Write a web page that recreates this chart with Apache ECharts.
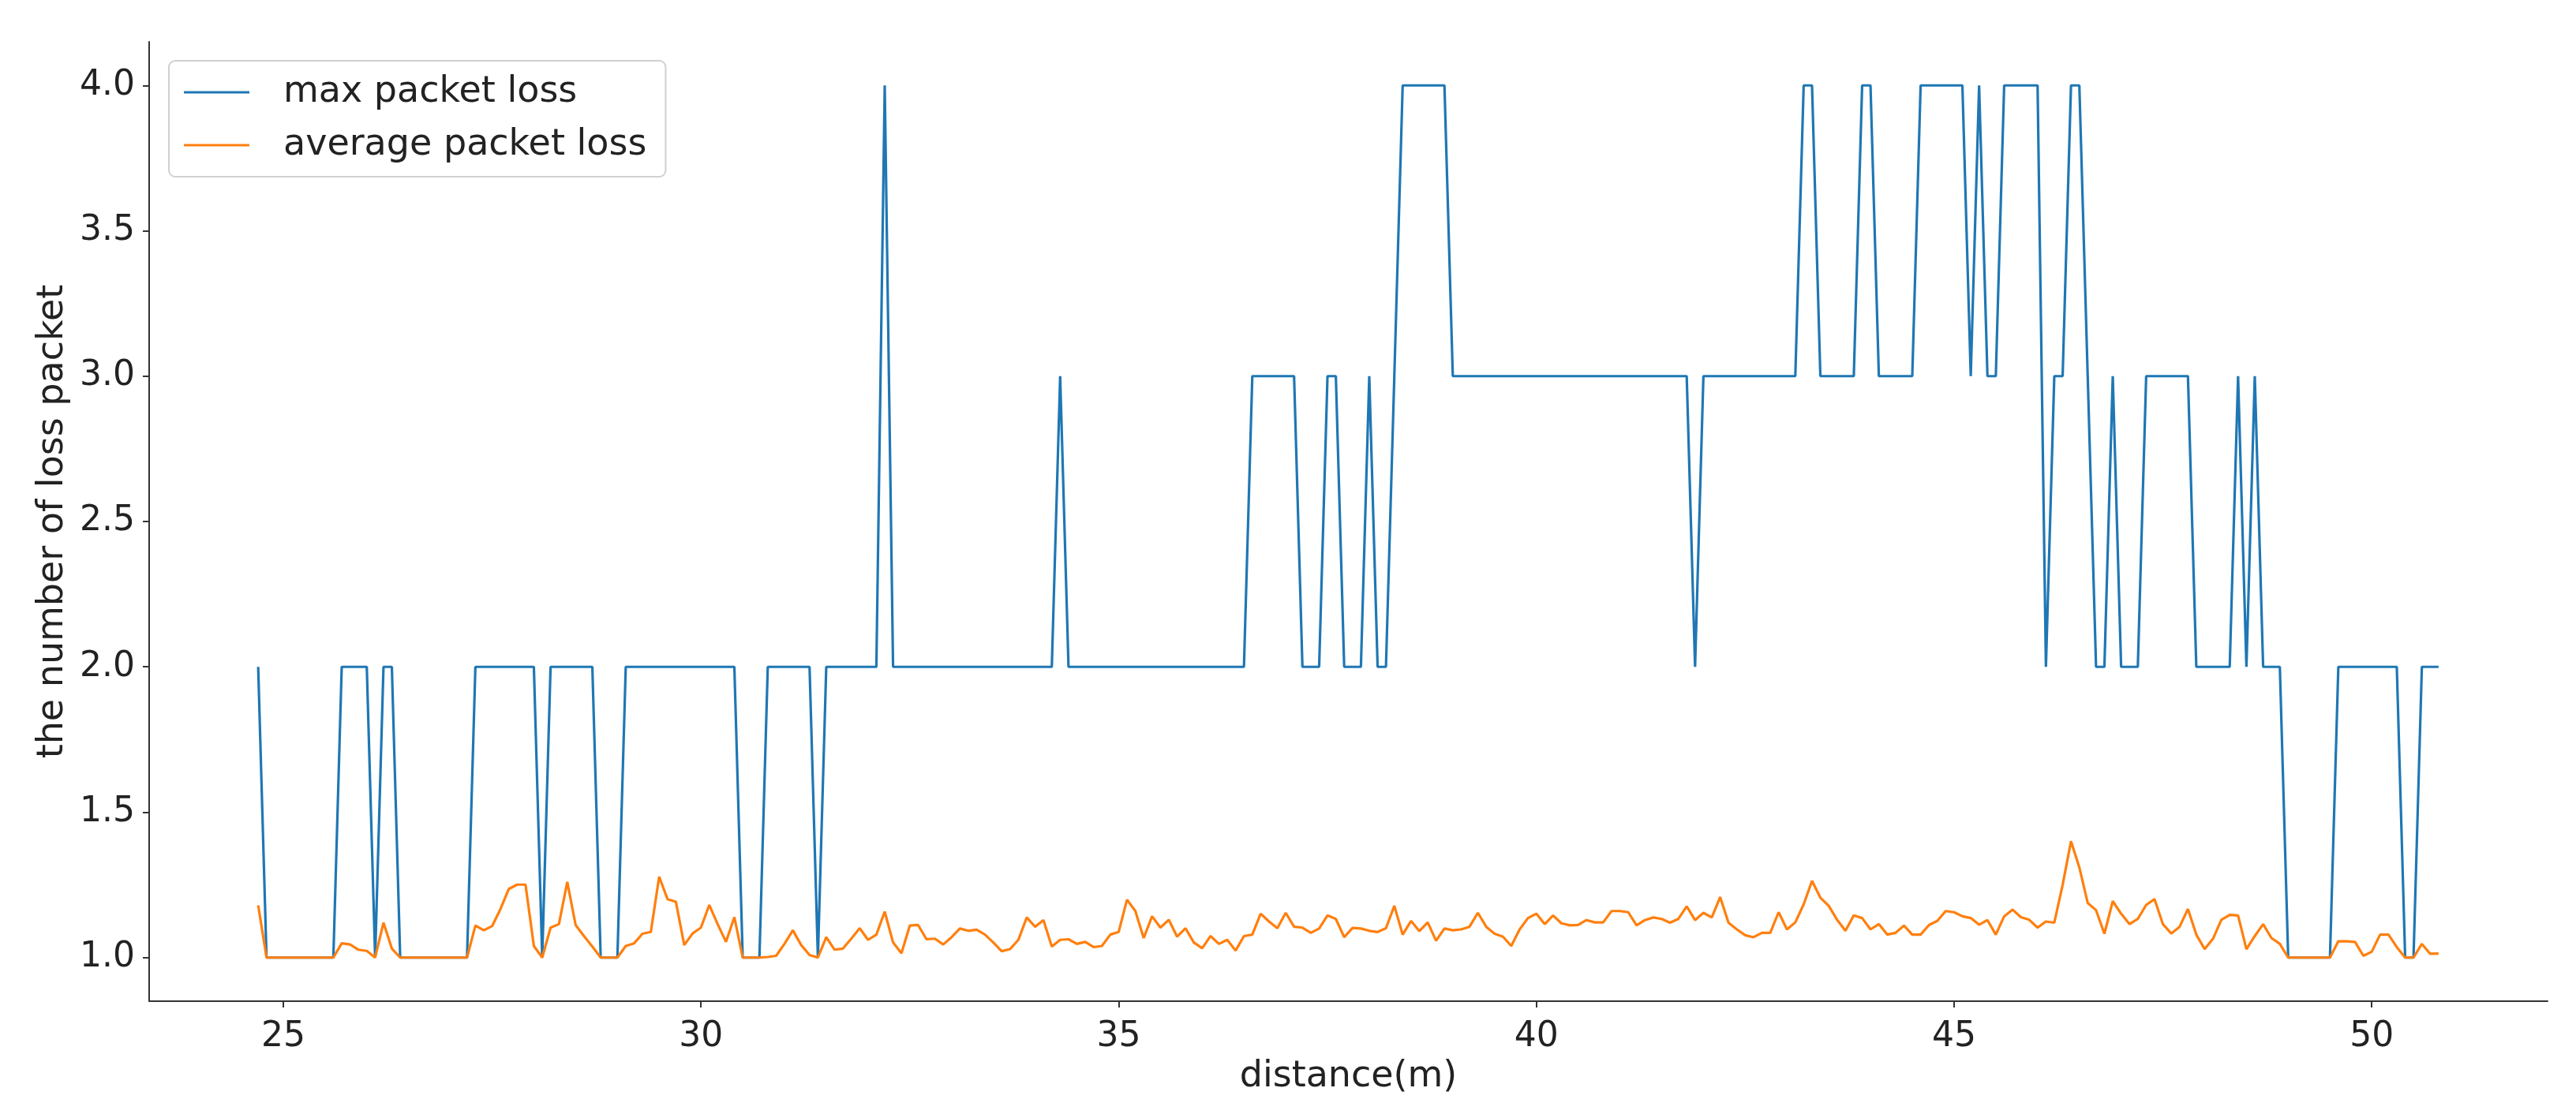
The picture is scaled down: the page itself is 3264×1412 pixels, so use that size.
<!DOCTYPE html>
<html>
<head>
<meta charset="utf-8">
<script src="https://cdn.jsdelivr.net/npm/echarts@6/dist/echarts.min.js"></script>
<style>
html,body{margin:0;padding:0;background:#fff;}
#chart{width:3264px;height:1412px;}
</style>
</head>
<body>
<div id="chart"></div>
<script>
// sampling grid of the distance axis (m)
const distanceStart = 24.7;
const distanceStep = 0.1;

const maxPacketLoss = [
  2,1,1,1,1,1,1,1,1,1,
  2,2,2,2,1,2,2,1,1,1,
  1,1,1,1,1,1,2,2,2,2,
  2,2,2,2,1,2,2,2,2,2,
  2,1,1,1,2,2,2,2,2,2,
  2,2,2,2,2,2,2,2,1,1,
  1,2,2,2,2,2,2,1,2,2,
  2,2,2,2,2,4,2,2,2,2,
  2,2,2,2,2,2,2,2,2,2,
  2,2,2,2,2,2,3,2,2,2,
  2,2,2,2,2,2,2,2,2,2,
  2,2,2,2,2,2,2,2,2,3,
  3,3,3,3,3,2,2,2,3,3,
  2,2,2,3,2,2,3,4,4,4,
  4,4,4,3,3,3,3,3,3,3,
  3,3,3,3,3,3,3,3,3,3,
  3,3,3,3,3,3,3,3,3,3,
  3,3,2,3,3,3,3,3,3,3,
  3,3,3,3,3,4,4,3,3,3,
  3,3,4,4,3,3,3,3,3,4,
  4,4,4,4,4,3,4,3,3,4,
  4,4,4,4,2,3,3,4,4,3,
  2,2,3,2,2,2,3,3,3,3,
  3,3,2,2,2,2,2,3,2,3,
  2,2,2,1,1,1,1,1,1,2,
  2,2,2,2,2,2,2,1,1,2,
  2,2
];

const averagePacketLoss = [
  1.18,1.0,1.0,1.0,1.0,1.0,1.0,1.0,1.0,1.0,
  1.049,1.045,1.027,1.023,1.0,1.12,1.031,1.0,1.0,1.0,
  1.0,1.0,1.0,1.0,1.0,1.0,1.11,1.094,1.108,1.167,
  1.236,1.251,1.251,1.04,1.0,1.103,1.115,1.26,1.112,1.074,
  1.038,1.0,1.0,1.0,1.04,1.049,1.082,1.088,1.278,1.201,
  1.192,1.043,1.083,1.103,1.181,1.115,1.054,1.139,1.0,1.0,
  1.0,1.002,1.006,1.047,1.094,1.043,1.009,1.0,1.07,1.027,
  1.031,1.065,1.101,1.061,1.079,1.158,1.052,1.015,1.11,1.112,
  1.063,1.065,1.045,1.07,1.1,1.092,1.096,1.079,1.052,1.022,
  1.029,1.061,1.138,1.106,1.129,1.038,1.061,1.063,1.047,1.054,
  1.036,1.04,1.079,1.088,1.199,1.16,1.067,1.142,1.103,1.13,
  1.072,1.101,1.052,1.032,1.074,1.047,1.061,1.024,1.074,1.079,
  1.151,1.124,1.101,1.154,1.106,1.103,1.085,1.1,1.145,1.133,
  1.07,1.102,1.1,1.092,1.088,1.101,1.178,1.079,1.126,1.091,
  1.121,1.058,1.1,1.094,1.097,1.106,1.154,1.106,1.082,1.072,
  1.04,1.097,1.136,1.151,1.115,1.145,1.118,1.111,1.112,1.129,
  1.121,1.121,1.16,1.16,1.156,1.111,1.129,1.138,1.133,1.12,
  1.133,1.176,1.129,1.154,1.138,1.208,1.12,1.097,1.077,1.07,
  1.085,1.085,1.156,1.097,1.121,1.183,1.264,1.206,1.178,1.13,
  1.092,1.145,1.136,1.097,1.115,1.079,1.085,1.11,1.079,1.079,
  1.112,1.126,1.16,1.156,1.142,1.136,1.113,1.129,1.079,1.142,
  1.165,1.139,1.13,1.103,1.124,1.12,1.25,1.40,1.31,1.188,
  1.163,1.082,1.194,1.151,1.115,1.133,1.181,1.201,1.115,1.083,
  1.106,1.167,1.079,1.029,1.065,1.13,1.147,1.145,1.029,1.074,
  1.115,1.067,1.047,1.0,1.0,1.0,1.0,1.0,1.0,1.056,
  1.056,1.054,1.006,1.02,1.079,1.079,1.036,1.0,1.0,1.047,
  1.013,1.014
];

const xTicks = [25, 30, 35, 40, 45, 50];
const yTicks = [1.0, 1.5, 2.0, 2.5, 3.0, 3.5, 4.0];
const seriesNames = ['max packet loss', 'average packet loss'];

const distances = maxPacketLoss.map((_, i) => +(distanceStart + i * distanceStep).toFixed(2));
const pairs = arr => arr.map((v, i) => [distances[i], v]);

const xMin = distances[0], xMax = distances[distances.length - 1];
const xPad = (xMax - xMin) * 0.05;
const yPad = (4.0 - 1.0) * 0.05;

const FONT = 'DejaVu Sans';
const chart = echarts.init(document.getElementById('chart'), null, {renderer: 'canvas'});
chart.setOption({
  animation: false,
  backgroundColor: '#ffffff',
  textStyle: {fontFamily: FONT},
  grid: {left: 189, right: 36, top: 53, bottom: 143, containLabel: false},
  legend: {
    orient: 'vertical',
    left: 214, top: 77,
    padding: [14, 24, 14, 19],
    backgroundColor: '#ffffff',
    borderColor: '#d0d0d0',
    borderWidth: 2,
    borderRadius: 8,
    icon: 'rect',
    itemWidth: 83,
    itemHeight: 3,
    itemGap: 15,
    textStyle: {fontFamily: FONT, fontSize: 46, color: '#222', padding: [0, 0, 0, 38], lineHeight: 52},
    data: seriesNames
  },
  xAxis: {
    type: 'value',
    min: +(xMin - xPad).toFixed(4),
    max: +(xMax + xPad).toFixed(4),
    name: 'distance(m)',
    nameLocation: 'middle',
    nameGap: 72,
    nameTextStyle: {fontFamily: FONT, fontSize: 46, color: '#222'},
    axisLine: {show: true, lineStyle: {color: '#333', width: 2}},
    axisTick: {show: true, length: 8, lineStyle: {color: '#333', width: 2}, customValues: xTicks},
    axisLabel: {fontFamily: FONT, fontSize: 44, color: '#222', margin: 24, customValues: xTicks,
      formatter: v => String(v)},
    splitLine: {show: false}
  },
  yAxis: {
    type: 'value',
    min: 1.0 - yPad,
    max: 4.0 + yPad,
    name: 'the number of loss packet',
    nameLocation: 'middle',
    nameGap: 93,
    nameRotate: 90,
    nameTextStyle: {fontFamily: FONT, fontSize: 46, color: '#222'},
    axisLine: {show: true, lineStyle: {color: '#333', width: 2}},
    axisTick: {show: true, length: 8, lineStyle: {color: '#333', width: 2}, customValues: yTicks},
    axisLabel: {fontFamily: FONT, fontSize: 44, color: '#222', margin: 18, customValues: yTicks,
      formatter: v => Number(v).toFixed(1)},
    splitLine: {show: false}
  },
  series: [
    {name: seriesNames[0], type: 'line', data: pairs(maxPacketLoss), showSymbol: false,
      lineStyle: {color: '#1f77b4', width: 3.2}, itemStyle: {color: '#1f77b4'}},
    {name: seriesNames[1], type: 'line', data: pairs(averagePacketLoss), showSymbol: false,
      lineStyle: {color: '#ff7f0e', width: 3.2}, itemStyle: {color: '#ff7f0e'}}
  ]
});
</script>
</body>
</html>
